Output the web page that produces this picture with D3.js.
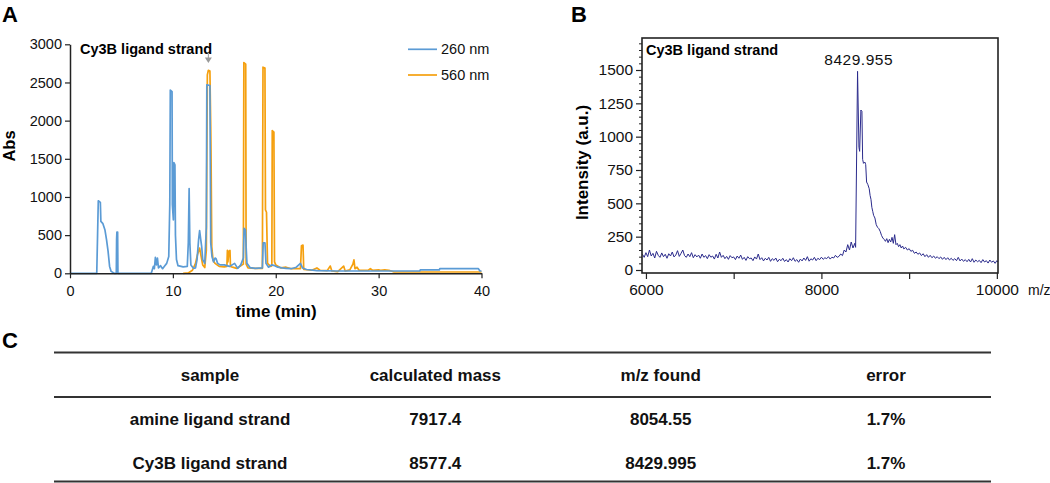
<!DOCTYPE html>
<html>
<head>
<meta charset="utf-8">
<script src="https://cdn.jsdelivr.net/npm/d3@7"></script>
<style>
  html, body { margin: 0; padding: 0; background: #fff; }
  svg { display: block; font-family: "Liberation Sans", Arial, sans-serif; }
</style>
</head>
<body>
<svg id="chart" width="1050" height="483"></svg>
<script>
// ---------- Panel A: HPLC chromatogram (time in min, absorbance) ----------
const absTicks = [0, 500, 1000, 1500, 2000, 2500, 3000];
const timeTicks = [0, 10, 20, 30, 40];
const legendLabels = ["260 nm", "560 nm"];

const trace260 = [
  [0,0],[2.6,0],[2.68,500],[2.75,950],[2.95,930],[3.0,680],[3.2,650],[3.4,567],[3.55,440],[3.7,290],
  [3.85,90],[4.0,25],[4.3,0],[4.5,0],[4.53,450],[4.56,540],[4.6,300],[4.63,540],[4.66,0],[7.9,0],
  [8.1,90],[8.2,60],[8.3,210],[8.4,110],[8.5,200],[8.6,70],[8.8,100],[9.0,60],[9.2,95],[9.4,130],
  [9.6,220],[9.7,900],[9.75,2400],[9.92,2380],[9.95,900],[10.05,700],[10.1,1450],[10.2,1420],[10.25,500],[10.35,180],
  [10.5,100],[11.0,85],[11.4,90],[11.5,400],[11.58,1110],[11.65,400],[11.75,110],[12.0,65],[12.2,70],[12.35,180],
  [12.5,440],[12.6,560],[12.7,450],[12.8,350],[12.9,180],[13.1,130],[13.25,600],[13.3,2470],[13.6,2460],[13.68,400],
  [13.8,220],[13.95,150],[14.1,200],[14.2,190],[14.35,130],[14.6,110],[15.0,110],[15.5,90],[16.0,130],[16.3,65],
  [16.6,110],[16.85,200],[16.92,590],[17.05,570],[17.12,350],[17.2,130],[17.5,75],[18.0,65],[18.7,70],[18.78,400],
  [18.95,400],[19.05,130],[19.3,80],[19.6,110],[19.9,100],[20.2,80],[20.6,70],[21.0,65],[21.5,60],[22.0,80],
  [22.4,130],[22.6,70],[23.0,50],[24.0,35],[26.0,30],[30.0,30],[34.0,30],[34.05,45],[35.9,45],[35.95,60],
  [39.7,60],[39.85,30],[40,30]
];

const trace560 = [
  [11.0,0],[11.5,5],[11.9,40],[12.2,130],[12.4,250],[12.6,330],[12.75,220],[12.9,110],[13.1,75],[13.25,300],
  [13.35,2600],[13.45,2660],[13.6,2650],[13.68,1920],[13.72,1400],[13.78,350],[13.9,175],[14.1,130],[14.5,90],[15.0,85],
  [15.25,90],[15.3,300],[15.35,150],[15.45,290],[15.55,300],[15.6,90],[15.8,80],[16.2,65],[16.6,100],[16.85,120],
  [16.9,2760],[17.08,2740],[17.12,120],[17.3,70],[18.0,65],[18.7,65],[18.76,2700],[18.95,2690],[19.0,830],[19.1,800],
  [19.2,130],[19.5,90],[19.62,100],[19.66,1870],[19.82,1850],[19.88,150],[20.0,110],[20.5,70],[21.0,80],[21.5,60],
  [22.0,60],[22.4,60],[22.5,360],[22.65,370],[22.72,50],[23.5,40],[24.0,70],[24.3,40],[25.0,35],[25.3,95],
  [25.45,30],[26.0,20],[26.6,95],[26.75,30],[27.2,45],[27.5,120],[27.6,175],[27.7,60],[27.9,80],[28.1,40],
  [29.0,40],[29.2,60],[29.4,40],[30.0,45],[30.2,40],[30.6,45],[31.0,40],[31.5,17],[40,17]
];
const markerTime = 13.45;

// ---------- Panel B: MALDI mass spectrum ----------
const mzTicks = [6000, 7000, 8000, 9000, 10000];
const mzLabelTicks = [6000, 8000, 10000];
const intTicks = [0, 250, 500, 750, 1000, 1250, 1500];
const peakLabel = "8429.955";
const peakMz = 8425;

const specMz = [
  5960,5980,6000,6020,6040,6060,6080,6100,6120,6140,6160,6180,6200,6220,6240,6260,6280,6300,6320,6340,
  6360,6380,6400,6420,6440,6460,6480,6500,6520,6540,6560,6580,6600,6620,6640,6660,6680,6700,6720,6740,
  6760,6780,6800,6820,6840,6860,6880,6900,6920,6940,6960,6980,7000,7020,7040,7060,7080,7100,7120,7140,
  7160,7180,7200,7220,7240,7260,7280,7300,7320,7340,7360,7380,7400,7420,7440,7460,7480,7500,7520,7540,
  7560,7580,7600,7620,7640,7660,7680,7700,7720,7740,7760,7780,7800,7820,7840,7860,7880,7900,7920,7940,
  7960,7980,8000,8020,8040,8060,8080,8100,8120,8140,8160,8180,8200,8220,8240,8260,8280,8300,8320,8340,
  8360,8380,8390,8412,8428,8436,8450,8462,8470,8480,8495,8505,8515,8530,8545,8555,8565,8575,8585,8595,
  8610,8625,8640,8655,8670,8685,8700,8715,8730,8745,8760,8775,8790,8805,8820,8835,8850,8865,8880,8895,
  8910,8925,8940,8960,8980,9000,9020,9040,9060,9080,9100,9120,9140,9160,9180,9200,9220,9240,9260,9280,
  9300,9320,9340,9360,9380,9400,9420,9440,9460,9480,9500,9520,9540,9560,9580,9600,9620,9640,9660,9680,
  9700,9720,9740,9760,9780,9800,9820,9840,9860,9880,9900,9920,9940,9960,9980,10000,10010
];
const specInt = [
  118,95,130,100,150,105,125,90,140,110,95,128,100,118,88,122,105,135,98,112,
  145,102,125,150,108,95,120,100,130,92,115,98,112,88,120,95,108,85,115,96,
  105,82,118,90,135,95,110,85,102,80,108,92,98,78,105,88,112,80,95,72,
  100,85,90,70,98,82,120,78,92,68,88,75,95,65,85,72,90,62,80,70,
  88,64,78,60,85,70,92,65,78,58,82,68,90,72,100,66,84,75,95,70,
  88,78,96,80,92,85,100,82,96,90,110,95,102,120,108,150,135,190,150,210,
  165,200,170,1490,920,890,1200,1190,830,800,810,790,660,640,610,560,530,470,440,410,
  390,340,320,310,290,260,240,230,215,235,205,230,210,245,200,265,190,200,175,190,
  165,180,158,170,150,160,140,148,125,135,118,128,108,122,100,115,95,110,92,105,
  88,100,85,98,80,95,78,92,75,88,72,85,70,95,68,82,65,78,62,80,
  60,85,58,75,62,72,55,78,60,70,52,75,58,68,50,70,60
];

// ---------- Panel C: table ----------
const tableHeader = ["sample", "calculated mass", "m/z found", "error"];
const tableSamples = ["amine ligand strand", "Cy3B ligand strand"];
const tableCalcMass = ["7917.4", "8577.4"];
const tableFound = ["8054.55", "8429.995"];
const tableError = ["1.7%", "1.7%"];

// ================= drawing =================
const svg = d3.select("#chart");
const ink = "#222";
const blue = "#5b9bd5";
const orange = "#f5a00f";
const navy = "#2b2b8c";
const fmt = d3.format("d");

// panel letters
[["A", 2, 22], ["B", 571, 22], ["C", 2, 348]].forEach(([t, x, y]) => {
  svg.append("text").attr("x", x).attr("y", y).attr("font-size", 22)
    .attr("font-weight", "bold").attr("fill", "#000").text(t);
});

// ----- Panel A -----
const xA = d3.scaleLinear().domain([0, 40]).range([70, 481.5]);
const yA = d3.scaleLinear().domain([0, 3000]).range([273.3, 44.3]);
const gA = svg.append("g");

const lineA = d3.line().x(d => xA(d[0])).y(d => yA(d[1]));
gA.append("path").datum(trace560).attr("d", lineA)
  .attr("fill", "none").attr("stroke", orange).attr("stroke-width", 1.7).attr("stroke-linejoin", "round");
gA.append("path").datum(trace260).attr("d", lineA)
  .attr("fill", "none").attr("stroke", blue).attr("stroke-width", 1.7).attr("stroke-linejoin", "round");

const axAx = gA.append("g").attr("transform", `translate(0,${yA(0)})`)
  .call(d3.axisBottom(xA).tickValues(timeTicks).tickFormat(fmt).tickSize(5).tickSizeOuter(0).tickPadding(4));
const axAy = gA.append("g").attr("transform", `translate(${xA(0)},0)`)
  .call(d3.axisLeft(yA).tickValues(absTicks).tickFormat(fmt).tickSize(5).tickSizeOuter(0).tickPadding(3));
[axAx, axAy].forEach(a => {
  a.select(".domain").attr("stroke", ink).attr("stroke-width", 1.5);
  a.selectAll(".tick line").attr("stroke", ink).attr("stroke-width", 1.2);
  a.selectAll(".tick text").attr("font-size", 14.5).attr("fill", "#111")
    .attr("font-family", "Liberation Sans, Arial, sans-serif");
});
axAx.selectAll(".tick text").attr("dy", "0.95em");

gA.append("text").attr("transform", `translate(15,146) rotate(-90)`)
  .attr("text-anchor", "middle").attr("font-size", 16.5).attr("font-weight", "bold").text("Abs");
gA.append("text").attr("x", 276).attr("y", 317).attr("text-anchor", "middle")
  .attr("font-size", 17).attr("font-weight", "bold").text("time (min)");
gA.append("text").attr("x", 80).attr("y", 54).attr("font-size", 14.5)
  .attr("font-weight", "bold").text("Cy3B ligand strand");

// marker arrow
const mx = xA(markerTime);
gA.append("line").attr("x1", mx).attr("x2", mx).attr("y1", 54).attr("y2", 59)
  .attr("stroke", "#999").attr("stroke-width", 1);
gA.append("path").attr("d", `M${mx - 3.5},57.5 L${mx + 3.5},57.5 L${mx},63 Z`).attr("fill", "#999");

// legend
const legColors = [blue, orange];
legendLabels.forEach((lab, i) => {
  const y = 49.3 + i * 25.7;
  gA.append("line").attr("x1", 408).attr("x2", 437).attr("y1", y).attr("y2", y)
    .attr("stroke", legColors[i]).attr("stroke-width", 1.7);
  gA.append("text").attr("x", 441).attr("y", y + 5).attr("font-size", 14.5).attr("fill", "#111").text(lab);
});

// ----- Panel B -----
const xB = d3.scaleLinear().domain([5955, 10013]).range([642, 998]);
const yB = d3.scaleLinear().domain([-22.5, 1740]).range([273, 38]);
const gB = svg.append("g");

const specData = specMz.map((m, i) => [m, specInt[i]]);
gB.append("path").datum(specData)
  .attr("d", d3.line().x(d => xB(d[0])).y(d => yB(d[1])))
  .attr("fill", "none").attr("stroke", navy).attr("stroke-width", 1).attr("stroke-linejoin", "round");

// frame
gB.append("rect").attr("x", 642).attr("y", 38).attr("width", 356).attr("height", 235)
  .attr("fill", "none").attr("stroke", ink).attr("stroke-width", 1.6);

// minor y ticks every 50
const minorInt = d3.range(0, 1741, 50).filter(v => v % 250 !== 0);
gB.append("g").attr("transform", `translate(642,0)`)
  .call(d3.axisLeft(yB).tickValues(minorInt).tickSize(3).tickFormat(""))
  .call(a => { a.select(".domain").remove(); a.selectAll(".tick line").attr("stroke", ink); });
const axBy = gB.append("g").attr("transform", `translate(642,0)`)
  .call(d3.axisLeft(yB).tickValues(intTicks).tickFormat(fmt).tickSize(6).tickPadding(3));
axBy.select(".domain").remove();
axBy.selectAll(".tick line").attr("stroke", ink).attr("stroke-width", 1.2);
axBy.selectAll(".tick text").attr("font-size", 15.5).attr("fill", "#111")
  .attr("font-family", "Liberation Sans, Arial, sans-serif");

const axBx = gB.append("g").attr("transform", `translate(0,273)`)
  .call(d3.axisBottom(xB).tickValues(mzTicks).tickSize(6).tickPadding(5)
    .tickFormat(d => mzLabelTicks.includes(d) ? fmt(d) : ""));
axBx.select(".domain").remove();
axBx.selectAll(".tick line").attr("stroke", ink).attr("stroke-width", 1.2);
axBx.selectAll(".tick text").attr("font-size", 15.5).attr("fill", "#111")
  .attr("font-family", "Liberation Sans, Arial, sans-serif");

gB.append("text").attr("x", 1028).attr("y", 295).attr("text-anchor", "start")
  .attr("font-size", 14).attr("fill", "#111").text("m/z");
gB.append("text").attr("transform", `translate(588,162.5) rotate(-90)`)
  .attr("text-anchor", "middle").attr("font-size", 17).attr("font-weight", "bold").text("Intensity (a.u.)");
gB.append("text").attr("x", 646).attr("y", 54.5).attr("font-size", 14.5)
  .attr("font-weight", "bold").text("Cy3B ligand strand");
gB.append("text").attr("x", xB(peakMz)).attr("y", 65).attr("text-anchor", "middle")
  .attr("font-size", 15.5).attr("letter-spacing", 0.5).attr("fill", "#111").text(peakLabel);

// ----- Panel C: table -----
const colX = d3.scalePoint().domain(tableHeader).range([210, 886]);
const gC = svg.append("g");
[352.5, 397, 481.5].forEach(y => {
  gC.append("line").attr("x1", 54).attr("x2", 991).attr("y1", y).attr("y2", y)
    .attr("stroke", "#333").attr("stroke-width", 2);
});
const rowY = d3.scalePoint().domain(["h", "r0", "r1"]).range([375, 463]);
function cell(col, rowKey, txt) {
  gC.append("text").attr("x", colX(col)).attr("y", rowY(rowKey)).attr("dy", "0.36em")
    .attr("text-anchor", "middle").attr("font-size", 17).attr("font-weight", "bold")
    .attr("fill", "#111").text(txt);
}
tableHeader.forEach(h => cell(h, "h", h));
tableSamples.forEach((s, i) => {
  const r = "r" + i;
  cell(tableHeader[0], r, s);
  cell(tableHeader[1], r, tableCalcMass[i]);
  cell(tableHeader[2], r, tableFound[i]);
  cell(tableHeader[3], r, tableError[i]);
});
</script>
</body>
</html>
